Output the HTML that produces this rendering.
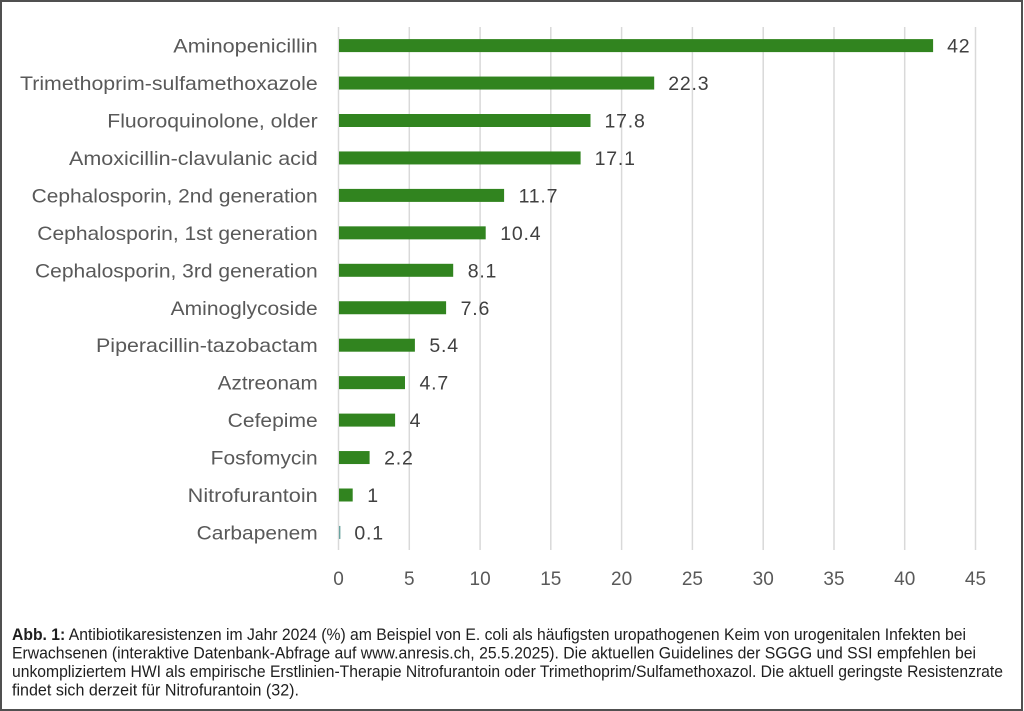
<!DOCTYPE html>
<html>
<head>
<meta charset="utf-8">
<style>
  html, body { margin: 0; padding: 0; background: #ffffff; }
  body { width: 1024px; height: 711px; overflow: hidden; }
  svg { display: block; }
  .cat { font-family: "Liberation Sans", sans-serif; font-size: 19.5px; fill: #595959; }
  .val { font-family: "Liberation Sans", sans-serif; font-size: 19.5px; fill: #404040; letter-spacing: 0.8px; }
  .tick { font-family: "Liberation Sans", sans-serif; font-size: 19px; fill: #595959; }
  .cap { font-family: "Liberation Sans Narrow", "Liberation Sans", sans-serif; font-size: 16.5px; fill: #1e1e1e; }
</style>
</head>
<body>
<svg width="1024" height="711" viewBox="0 0 1024 711" xmlns="http://www.w3.org/2000/svg">
  <rect x="0" y="0" width="1024" height="711" fill="#ffffff"/>
  <rect x="1" y="1" width="1021" height="709" fill="none" stroke="#505050" stroke-width="2"/>

  <!-- gridlines -->
  <g stroke="#d9d9d9" stroke-width="1.5">
    <line x1="338.5" y1="27" x2="338.5" y2="550"/>
    <line x1="409.3" y1="27" x2="409.3" y2="550"/>
    <line x1="480.1" y1="27" x2="480.1" y2="550"/>
    <line x1="550.8" y1="27" x2="550.8" y2="550"/>
    <line x1="621.6" y1="27" x2="621.6" y2="550"/>
    <line x1="692.4" y1="27" x2="692.4" y2="550"/>
    <line x1="763.2" y1="27" x2="763.2" y2="550"/>
    <line x1="834.0" y1="27" x2="834.0" y2="550"/>
    <line x1="904.7" y1="27" x2="904.7" y2="550"/>
    <line x1="975.5" y1="27" x2="975.5" y2="550"/>
  </g>

  <!-- bars -->
  <g fill="#31841f">
    <rect x="339" y="39.1" width="594.1" height="13"/>
    <rect x="339" y="76.55" width="315.2" height="13"/>
    <rect x="339" y="114.0" width="251.5" height="13"/>
    <rect x="339" y="151.45" width="241.6" height="13"/>
    <rect x="339" y="188.9" width="165.1" height="13"/>
    <rect x="339" y="226.35" width="146.7" height="13"/>
    <rect x="339" y="263.8" width="114.2" height="13"/>
    <rect x="339" y="301.25" width="107.1" height="13"/>
    <rect x="339" y="338.7" width="75.9" height="13"/>
    <rect x="339" y="376.15" width="66.0" height="13"/>
    <rect x="339" y="413.6" width="56.1" height="13"/>
    <rect x="339" y="451.05" width="30.6" height="13"/>
    <rect x="339" y="488.5" width="13.7" height="13"/>
  </g>
  <rect x="339" y="525.95" width="1.4" height="13" fill="#6aa3a0"/>

  <!-- category labels -->
  <g class="cat">
    <text x="173.3" y="52.6" textLength="144.4" lengthAdjust="spacingAndGlyphs">Aminopenicillin</text>
    <text x="20" y="90.05" textLength="297.7" lengthAdjust="spacingAndGlyphs">Trimethoprim-sulfamethoxazole</text>
    <text x="107.3" y="127.5" textLength="210.4" lengthAdjust="spacingAndGlyphs">Fluoroquinolone, older</text>
    <text x="69" y="164.95" textLength="248.7" lengthAdjust="spacingAndGlyphs">Amoxicillin-clavulanic acid</text>
    <text x="31.7" y="202.4" textLength="286" lengthAdjust="spacingAndGlyphs">Cephalosporin, 2nd generation</text>
    <text x="37.3" y="239.85" textLength="280.4" lengthAdjust="spacingAndGlyphs">Cephalosporin, 1st generation</text>
    <text x="35" y="277.3" textLength="282.7" lengthAdjust="spacingAndGlyphs">Cephalosporin, 3rd generation</text>
    <text x="170.7" y="314.75" textLength="147" lengthAdjust="spacingAndGlyphs">Aminoglycoside</text>
    <text x="96" y="352.2" textLength="221.7" lengthAdjust="spacingAndGlyphs">Piperacillin-tazobactam</text>
    <text x="217.7" y="389.65" textLength="100" lengthAdjust="spacingAndGlyphs">Aztreonam</text>
    <text x="227.7" y="427.1" textLength="90" lengthAdjust="spacingAndGlyphs">Cefepime</text>
    <text x="210.7" y="464.55" textLength="107" lengthAdjust="spacingAndGlyphs">Fosfomycin</text>
    <text x="187.7" y="502.0" textLength="130" lengthAdjust="spacingAndGlyphs">Nitrofurantoin</text>
    <text x="196.7" y="539.45" textLength="121" lengthAdjust="spacingAndGlyphs">Carbapenem</text>
  </g>

  <!-- value labels -->
  <g class="val">
    <text x="947.1" y="52.6">42</text>
    <text x="668.2" y="90.05">22.3</text>
    <text x="604.5" y="127.5">17.8</text>
    <text x="594.6" y="164.95">17.1</text>
    <text x="518.6" y="202.4">11.7</text>
    <text x="500.2" y="239.85">10.4</text>
    <text x="467.7" y="277.3">8.1</text>
    <text x="460.6" y="314.75">7.6</text>
    <text x="429.4" y="352.2">5.4</text>
    <text x="419.5" y="389.65">4.7</text>
    <text x="409.6" y="427.1">4</text>
    <text x="384.1" y="464.55">2.2</text>
    <text x="367.2" y="502.0">1</text>
    <text x="354.4" y="539.45">0.1</text>
  </g>

  <!-- x tick labels -->
  <g class="tick" text-anchor="middle">
    <text x="338.5" y="585">0</text>
    <text x="409.3" y="585">5</text>
    <text x="480.1" y="585">10</text>
    <text x="550.8" y="585">15</text>
    <text x="621.6" y="585">20</text>
    <text x="692.4" y="585">25</text>
    <text x="763.2" y="585">30</text>
    <text x="834.0" y="585">35</text>
    <text x="904.7" y="585">40</text>
    <text x="975.5" y="585">45</text>
  </g>

  <!-- caption -->
  <g class="cap">
    <text x="12" y="640" textLength="954" lengthAdjust="spacingAndGlyphs"><tspan font-weight="bold">Abb. 1:</tspan> Antibiotikaresistenzen im Jahr 2024 (%) am Beispiel von E. coli als häufigsten uropathogenen Keim von urogenitalen Infekten bei</text>
    <text x="12" y="658.5" textLength="964" lengthAdjust="spacingAndGlyphs">Erwachsenen (interaktive Datenbank-Abfrage auf www.anresis.ch, 25.5.2025). Die aktuellen Guidelines der SGGG und SSI empfehlen bei</text>
    <text x="12" y="677" textLength="991" lengthAdjust="spacingAndGlyphs">unkompliziertem HWI als empirische Erstlinien-Therapie Nitrofurantoin oder Trimethoprim/Sulfamethoxazol. Die aktuell geringste Resistenzrate</text>
    <text x="12" y="695.5" textLength="287" lengthAdjust="spacingAndGlyphs">findet sich derzeit für Nitrofurantoin (32).</text>
  </g>
</svg>
</body>
</html>
